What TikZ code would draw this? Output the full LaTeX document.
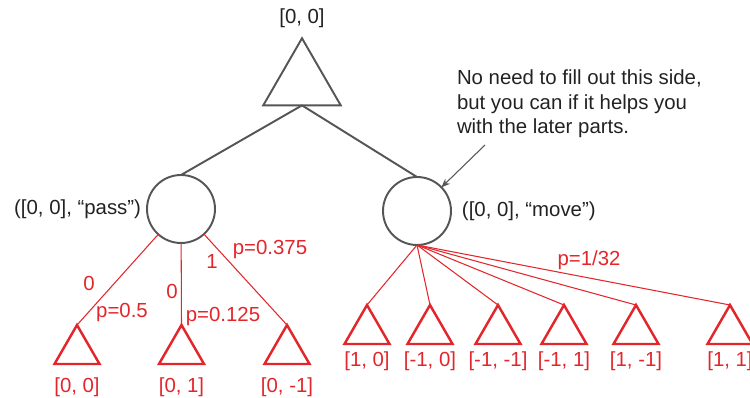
\documentclass[tikz,border=0pt]{standalone}
\usepackage{fontspec}
\setmainfont{Liberation Sans}
\usetikzlibrary{shapes.geometric, positioning, arrows.meta}
\definecolor{treered}{HTML}{E3262B}
\definecolor{treegray}{HTML}{555555}
\definecolor{textgray}{HTML}{222222}

\begin{document}
\begin{tikzpicture}[
    x=0.02cm, y=-0.02cm,
    font=\fontsize{11.6}{13.9}\selectfont,
    every node/.style={inner sep=0pt, outer sep=0pt, text=textgray},
    maxnode/.style={regular polygon, regular polygon sides=3, draw=treegray, line width=1.1pt, minimum size=1.79cm},
    chance/.style={circle, draw=treegray, line width=1.1pt, minimum size=1.36cm},
    leaf/.style={regular polygon, regular polygon sides=3, draw=treered, line width=1.4pt, minimum size=1.04cm},
    redtext/.style={text=treered},
    redline/.style={draw=treered, line width=0.6pt},
    grayline/.style={draw=treegray, line width=1.1pt},
    notearrow/.style={draw=treegray, line width=0.6pt, -{Stealth[length=5pt, width=4pt]}}
]
   \useasboundingbox (0,0) rectangle (750,398);

   % Root and chance nodes
   \node[maxnode] (root) at (302,83) {};
   \node (rootval) [above=0.22cm of root] {[0, 0]};
   \node[chance] (pass) at (181,209) {};
   \node[chance] (move) at (417,211) {};
   \node (passval) [left=0.12cm of pass] {([0, 0], “pass”)};
   \node (moveval) [right=0.22cm of move] {([0, 0], “move”)};

   \draw[grayline] (root.south) -- (pass.north);
   \draw[grayline] (root.south) -- (move.north);

   % Note
   \node[align=left, anchor=north west] (note) at (457,70)
      {No need to fill out this side,\\but you can if it helps you\\with the later parts.};
   \coordinate (notetail) at (485,145);
   \draw[notearrow] (notetail) -- (move);

   % Leaves under "pass"
   \foreach \x/\lab [count=\i] in {77/{[0, 0]}, 181.5/{[0, 1]}, 287/{[0, -1]}} {
      \node[leaf] (p\i) at (\x,351) {};
      \node[redtext] (pv\i) [below=0.28cm of p\i] {\lab};
      \draw[redline] (pass) -- (p\i.north);
   }
   \node[redtext] (e1) at (89,283) {0};
   \node[redtext] (pr1) at (122,312) {p=0.5};
   \node[redtext] (e2) at (172,291) {0};
   \node[redtext] (pr2) at (223,316) {p=0.125};
   \node[redtext] (e3) at (212,261) {1};
   \node[redtext] (pr3) at (270,250) {p=0.375};

   % Leaves under "move"
   \foreach \x/\lab [count=\i] in {367/{[1, 0]}, 430/{[-1, 0]}, 498/{[-1, -1]}, 564/{[-1, 1]}, 636/{[1, -1]}, 730/{[1, 1]}} {
      \node[leaf] (m\i) at (\x,331) {};
      \node[redtext] (mv\i) [below=0.15cm of m\i] {\lab};
      \draw[redline] (move.south) -- (m\i.north);
   }
   \node[redtext] (pr4) at (589,260) {p=1/32};
\end{tikzpicture}
\end{document}
